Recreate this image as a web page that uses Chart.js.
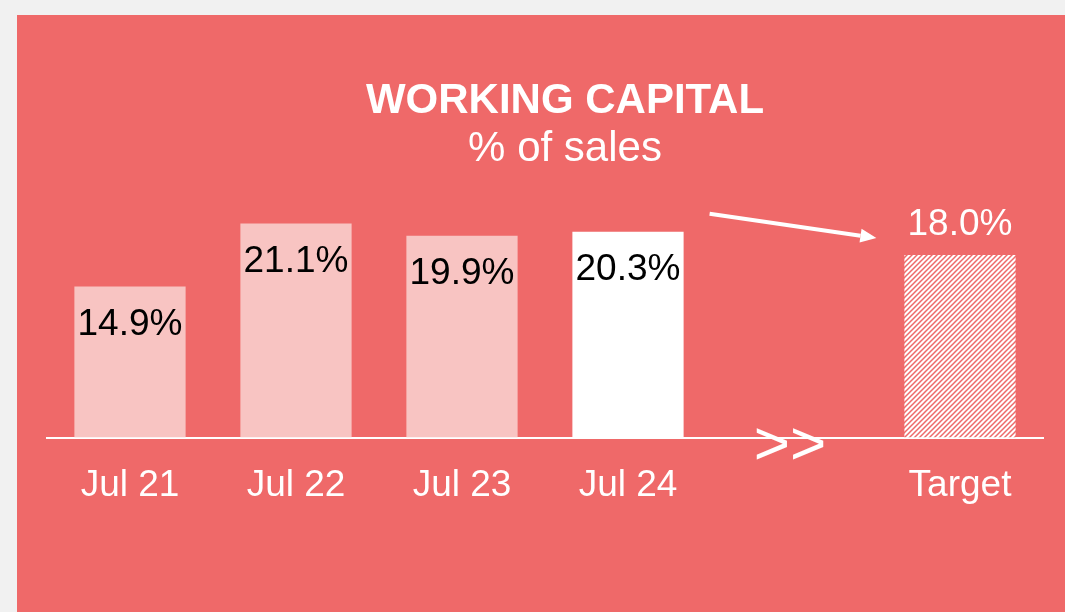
<!DOCTYPE html>
<html>
<head>
<meta charset="utf-8">
<script src="https://cdn.jsdelivr.net/npm/chart.js@4"></script>
<style>
  html, body { margin: 0; padding: 0; background: #f1f1f1; }
  #panel { position: absolute; left: 17px; top: 15px; width: 1048px; height: 597px; background: #ef6969; }
  #wcChart { display: block; }
</style>
</head>
<body>
<div id="panel"><canvas id="wcChart" width="1048" height="597"></canvas></div>
<script>
// data
const categories = ['Jul 21', 'Jul 22', 'Jul 23', 'Jul 24', '', 'Target'];
const wcPercent = [14.9, 21.1, 19.9, 20.3, null, 18.0];
const valueLabels = ['14.9%', '21.1%', '19.9%', '20.3%', '', '18.0%'];
const chartTitle = 'WORKING CAPITAL';
const chartSubtitle = '% of sales';

const FONT = "'Liberation Sans', Arial, sans-serif";
const PINK = '#f8c4c2';

// hatch for the target bar
function makeHatch() {
  const s = 5;
  const c = document.createElement('canvas');
  c.width = s; c.height = s;
  const g = c.getContext('2d');
  g.fillStyle = '#fff';
  g.fillRect(0, 0, s, s);
  g.strokeStyle = '#ee6a6a';
  g.lineWidth = 1.5;
  g.beginPath();
  g.moveTo(0, s); g.lineTo(s, 0);
  g.moveTo(-1, 1); g.lineTo(1, -1);
  g.moveTo(s - 1, s + 1); g.lineTo(s + 1, s - 1);
  g.stroke();
  return g.createPattern(c, 'repeat');
}

const ctx = document.getElementById('wcChart').getContext('2d');
const hatch = makeHatch();
const barColors = [PINK, PINK, PINK, '#ffffff', PINK, hatch];

// titles, value labels, arrow and the ">>" break mark
const overlay = {
  id: 'overlay',
  afterDatasetsDraw(chart) {
    const c = chart.ctx;
    const area = chart.chartArea;
    const bars = chart.getDatasetMeta(0).data;
    c.save();
    c.textAlign = 'center';
    c.textBaseline = 'middle';

    // title block sits a bit right of centre
    const tx = (area.left + area.right) / 2 + 20;
    c.fillStyle = '#fff';
    c.font = 'bold 42px ' + FONT;
    c.fillText(chartTitle, tx, 86);
    c.font = '42px ' + FONT;
    c.fillText(chartSubtitle, tx, 134);

    c.font = '37px ' + FONT;
    bars.forEach((b, i) => {
      if (wcPercent[i] == null) return;
      if (categories[i] === 'Target') {
        c.fillStyle = '#fff';
        c.fillText(valueLabels[i], b.x, b.y - 30);
      } else {
        c.fillStyle = '#000';
        c.fillText(valueLabels[i], b.x, b.y + 38);
      }
    });

    // arrow from last actual towards target
    const last = bars[3], tgt = bars[5];
    const x1 = last.x + last.width / 2 + 26, y1 = last.y - 18;
    const x2 = tgt.x - tgt.width / 2 - 28, y2 = tgt.y - 17;
    const ang = Math.atan2(y2 - y1, x2 - x1);
    const head = 16;
    c.strokeStyle = '#fff';
    c.fillStyle = '#fff';
    c.lineWidth = 4;
    c.beginPath();
    c.moveTo(x1, y1);
    c.lineTo(x2 - head * Math.cos(ang), y2 - head * Math.sin(ang));
    c.stroke();
    c.beginPath();
    c.moveTo(x2, y2);
    c.lineTo(x2 - head * Math.cos(ang) + 7 * Math.sin(ang), y2 - head * Math.sin(ang) - 7 * Math.cos(ang));
    c.lineTo(x2 - head * Math.cos(ang) - 7 * Math.sin(ang), y2 - head * Math.sin(ang) + 7 * Math.cos(ang));
    c.closePath();
    c.fill();

    // axis break
    const xs = chart.scales.x;
    c.font = '62px ' + FONT;
    c.fillText('>>', xs.getPixelForValue(4) - 4, area.bottom + 9);
    c.restore();
  }
};

new Chart(ctx, {
  type: 'bar',
  data: {
    labels: categories,
    datasets: [{
      data: wcPercent,
      backgroundColor: barColors,
      borderWidth: 0,
      barPercentage: 0.67,
      categoryPercentage: 1
    }]
  },
  options: {
    responsive: false,
    animation: false,
    layout: { padding: { left: 30, right: 22, top: 169, bottom: 78 } },
    plugins: {
      legend: { display: false },
      tooltip: { enabled: false }
    },
    scales: {
      x: {
        grid: { display: false, drawTicks: false },
        border: { display: true, color: '#fff', width: 2 },
        ticks: { color: '#fff', font: { family: FONT, size: 37 }, padding: 26, maxRotation: 0 }
      },
      y: { display: false, min: 0, max: 25 }
    }
  },
  plugins: [overlay]
});
</script>
</body>
</html>
